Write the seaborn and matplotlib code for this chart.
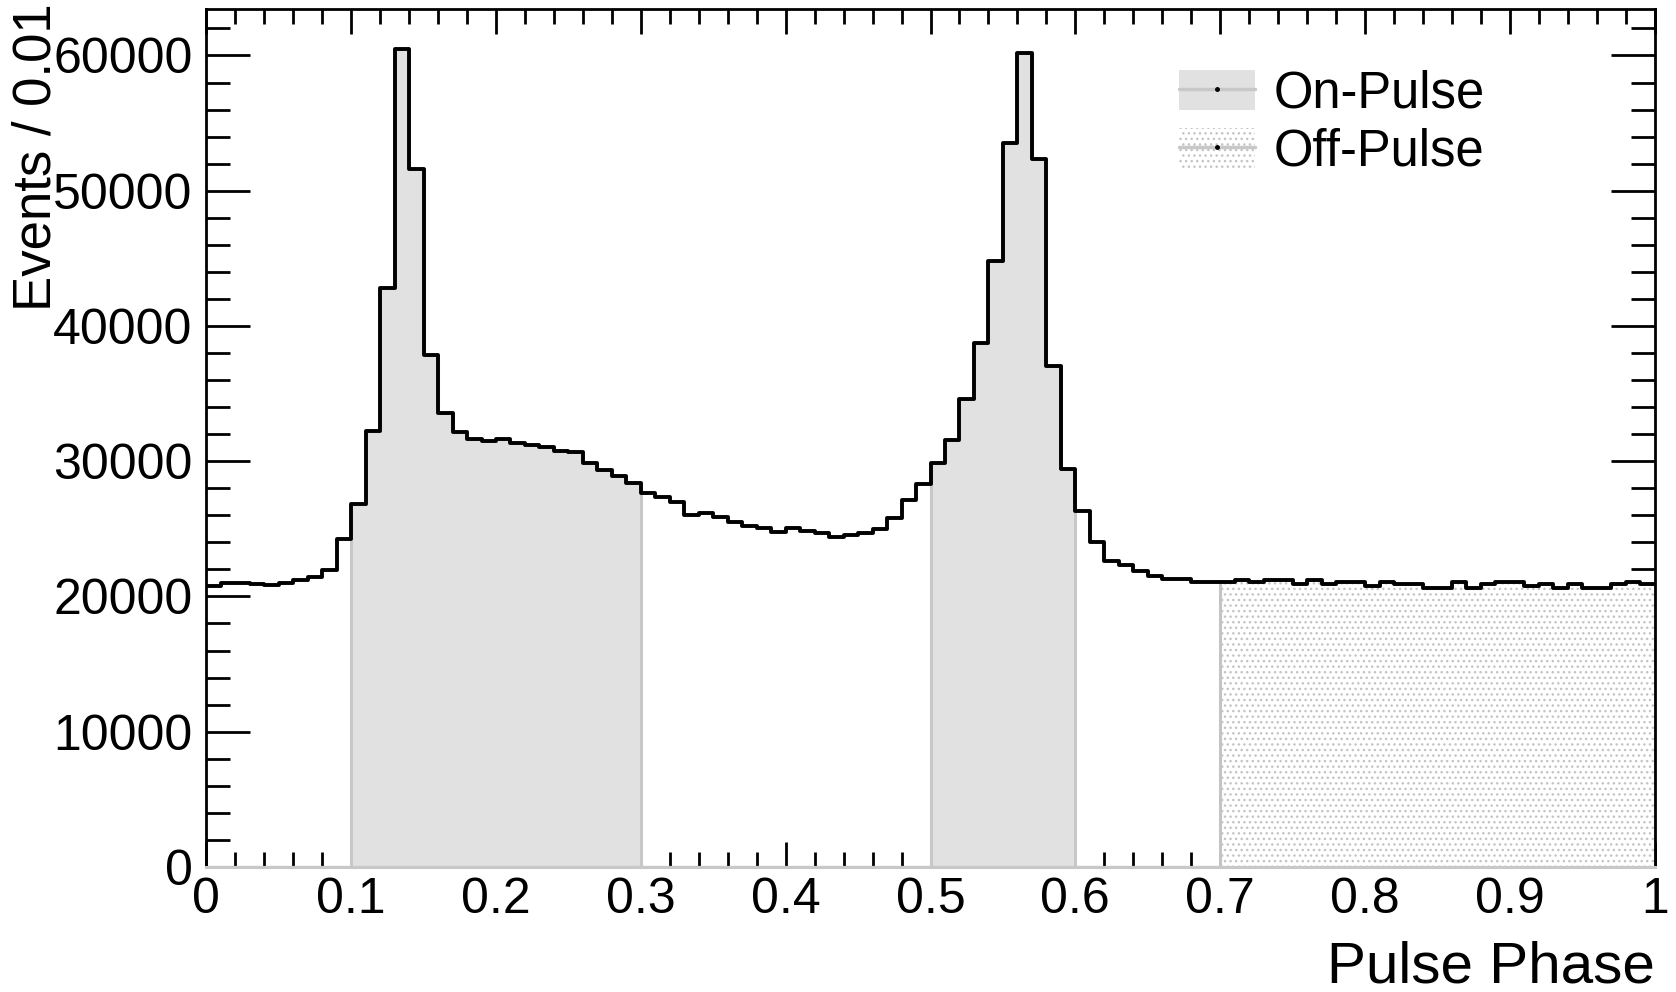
import numpy as np
import pandas as pd
import matplotlib
matplotlib.use("Agg")
import matplotlib.pyplot as plt
import seaborn as sns
from matplotlib.patches import Patch
from matplotlib.lines import Line2D
from matplotlib.ticker import MultipleLocator, FixedLocator, FixedFormatter

# ---------------- data ----------------
phase_min, phase_max, n_bins = 0.0, 1.0, 100

events = [
    20770, 21020, 21020, 20920, 20820, 21020, 21220, 21420, 21960, 24270,
    26810, 32270, 42780, 60450, 51630, 37830, 33540, 32180, 31620, 31480,
    31620, 31340, 31190, 31050, 30770, 30660, 29890, 29350, 28910, 28410,
    27670, 27380, 27010, 26020, 26190, 25900, 25530, 25210, 25085, 24790,
    25085, 24840, 24670, 24420, 24540, 24670, 24960, 25780, 27130, 28330,
    29850, 31550, 34580, 38740, 44770, 53540, 60150, 52350, 37040, 29420,
    26290, 24030, 22640, 22360, 21850, 21500, 21310, 21310, 21070, 21070,
    21070, 21190, 21070, 21190, 21190, 20940, 21190, 20940, 21070, 21070,
    20770, 21070, 20940, 20940, 20650, 20650, 21070, 20650, 20900, 21070,
    21070, 20770, 20940, 20650, 20940, 20650, 20650, 20940, 21070, 20940,
]

on_pulse_ranges = [(0.1, 0.3), (0.5, 0.6)]
off_pulse_ranges = [(0.7, 1.0)]

x_ticks = [0.0, 0.1, 0.2, 0.3, 0.4, 0.5, 0.6, 0.7, 0.8, 0.9, 1.0]
x_tick_labels = ["0", "0.1", "0.2", "0.3", "0.4", "0.5", "0.6", "0.7", "0.8", "0.9", "1"]
y_ticks = [0, 10000, 20000, 30000, 40000, 50000, 60000]
y_tick_labels = ["0", "10000", "20000", "30000", "40000", "50000", "60000"]

legend_labels = ["On-Pulse", "Off-Pulse"]
x_title = "Pulse Phase"
y_title = "Events / 0.01"

# ---------------- frame ----------------
edges = np.linspace(phase_min, phase_max, n_bins + 1)
centers = 0.5 * (edges[:-1] + edges[1:])
df = pd.DataFrame({"phase": centers, "events": events})


def in_ranges(x, ranges):
    m = np.zeros(len(x), dtype=bool)
    for lo, hi in ranges:
        m |= (x > lo) & (x < hi)
    return m


df["on_events"] = np.where(in_ranges(df["phase"].values, on_pulse_ranges), df["events"], 0)
df["off_events"] = np.where(in_ranges(df["phase"].values, off_pulse_ranges), df["events"], 0)

# ---------------- style ----------------
sns.set_style("ticks")
plt.rcParams["font.family"] = ["Liberation Sans", "DejaVu Sans"]
plt.rcParams["hatch.linewidth"] = 1.0
plt.rcParams["text.color"] = "black"
plt.rcParams["axes.labelcolor"] = "black"

fig = plt.figure(figsize=(16.76, 9.92), dpi=100)
ax = fig.add_axes([0.1231, 0.1261, 0.9873 - 0.1231, 0.9914 - 0.1261])

on_face = "#e1e1e1"
edge_gray = "#c8c8c8"
hist_kws = dict(bins=n_bins, binrange=(phase_min, phase_max), element="step", ax=ax)

sns.histplot(data=df, x="phase", weights="on_events", fill=True,
             facecolor=on_face, edgecolor=edge_gray, linewidth=2.2, **hist_kws)
sns.histplot(data=df, x="phase", weights="off_events", fill=True,
             facecolor=(1, 1, 1, 1), edgecolor="#c4c4c4", hatch="...",
             linewidth=2.2, **hist_kws)
sns.histplot(data=df, x="phase", weights="events", fill=False,
             color="black", linewidth=2.8, **hist_kws)

ymax = 1.05 * max(events)
ax.set_xlim(phase_min, phase_max)
ax.set_ylim(0, ymax)

ax.xaxis.set_major_locator(FixedLocator(x_ticks))
ax.xaxis.set_major_formatter(FixedFormatter(x_tick_labels))
ax.xaxis.set_minor_locator(MultipleLocator(0.02))
ax.yaxis.set_major_locator(FixedLocator(y_ticks))
ax.yaxis.set_major_formatter(FixedFormatter(y_tick_labels))
ax.yaxis.set_minor_locator(MultipleLocator(2000))

ax.tick_params(axis="both", which="both", direction="in", top=True, right=True,
               width=2.0, color="black", labelsize=36, labelcolor="black")
ax.tick_params(axis="x", which="major", length=18, pad=7)
ax.tick_params(axis="x", which="minor", length=11)
ax.tick_params(axis="y", which="major", length=32, pad=10)
ax.tick_params(axis="y", which="minor", length=17)

for side in ["left", "top", "right"]:
    ax.spines[side].set_linewidth(2.0)
    ax.spines[side].set_color("black")
ax.spines["bottom"].set_linewidth(2.2)
ax.spines["bottom"].set_color(edge_gray)

ax.set_xlabel(x_title, fontsize=42, color="black")
ax.xaxis.set_label_coords(1.0, -0.117)
ax.xaxis.label.set_ha("right")
ax.xaxis.label.set_va("center")

ax.set_ylabel(y_title, fontsize=38, color="black")
ax.yaxis.set_label_coords(-0.117, 1.006)
ax.yaxis.label.set_rotation_mode("anchor")
ax.yaxis.label.set_ha("right")
ax.yaxis.label.set_va("center")

# ---------------- legend ----------------
marker_line = dict(color=edge_gray, lw=2.5, marker="o", markersize=2.5,
                   markerfacecolor="black", markeredgecolor="black")
h_on = (Patch(facecolor=on_face, edgecolor="none"), Line2D([], [], **marker_line))
h_off = (Patch(facecolor="white", edgecolor="#c4c4c4", hatch="...", linewidth=0),
         Line2D([], [], **marker_line))
leg = ax.legend([h_on, h_off], legend_labels, loc="upper left",
                bbox_to_anchor=(0.6715, 0.929), frameon=False, fontsize=36.5,
                borderpad=0, borderaxespad=0, handlelength=1.5, handleheight=0.85,
                handletextpad=0.36, labelspacing=0.18)
for t in leg.get_texts():
    t.set_color("black")

fig.savefig("out.png", dpi=100)
